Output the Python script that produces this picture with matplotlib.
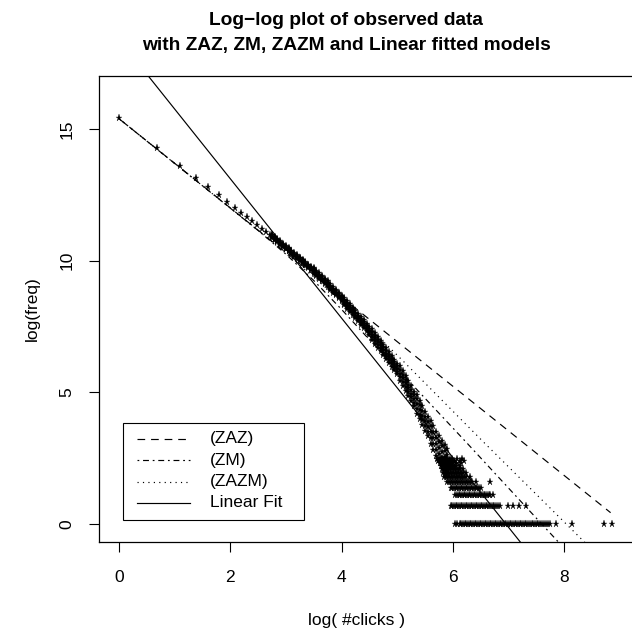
import numpy as np
import matplotlib
matplotlib.use("Agg")
import matplotlib.pyplot as plt
from matplotlib.patches import Rectangle

plt.rcParams['font.family'] = ['Liberation Sans', 'DejaVu Sans']

# ---------------- observed data (log scale values read from the picture) -------------
# first click counts (1..15): log(#clicks) and log(freq)
obs_x = [0.000, 0.693, 1.099, 1.386, 1.609, 1.792, 1.946, 2.079, 2.197, 2.303, 2.398, 2.485,
         2.565, 2.639, 2.708]
obs_y = [15.40, 14.27, 13.61, 13.14, 12.78, 12.48, 12.23, 12.01, 11.82, 11.65, 11.49, 11.35,
         11.22, 11.10, 10.99]

# denser part of the curve: centre of the point cloud and its half thickness
band_x = [2.75, 2.80, 2.85, 2.90, 2.95, 3.00, 3.05, 3.10, 3.15, 3.20, 3.25, 3.30, 3.35, 3.40,
          3.45, 3.50, 3.55, 3.60, 3.65, 3.70, 3.75, 3.80, 3.85, 3.90, 3.95, 4.00, 4.05, 4.10,
          4.15, 4.20, 4.25, 4.30, 4.35, 4.40, 4.45, 4.50, 4.55, 4.60, 4.65, 4.70, 4.75, 4.80,
          4.85, 4.90, 4.95, 5.00, 5.05, 5.10, 5.15, 5.20, 5.25, 5.30, 5.35, 5.40, 5.45, 5.50,
          5.55, 5.60, 5.65, 5.70, 5.75, 5.80, 5.85, 5.90]
band_mid = [10.93, 10.84, 10.76, 10.67, 10.58, 10.49, 10.41, 10.32, 10.23, 10.14, 10.06, 9.97,
            9.88, 9.79, 9.71, 9.62, 9.52, 9.42, 9.32, 9.22, 9.11, 9.00, 8.89, 8.78, 8.67, 8.56,
            8.44, 8.32, 8.20, 8.08, 7.96, 7.84, 7.71, 7.59, 7.46, 7.33, 7.19, 7.05, 6.90, 6.76,
            6.61, 6.47, 6.33, 6.18, 6.04, 5.89, 5.71, 5.53, 5.34, 5.15, 4.95, 4.75, 4.55, 4.33,
            4.12, 3.90, 3.69, 3.48, 3.26, 3.05, 2.88, 2.72, 2.55, 2.40]
band_half = [0.06] * 15 + [0.10] * 11 + [0.14] * 10 + [0.20] * 10 + [0.28] * 6 + [0.36] * 5 + [0.45] * 7

# tail: log(#clicks) of the click counts seen with a small frequency
f1_x = [6.04, 6.08, 6.12, 6.15, 6.18, 6.21, 6.24, 6.27, 6.30, 6.33, 6.36, 6.39, 6.42, 6.45,
        6.48, 6.51, 6.54, 6.57, 6.60, 6.63, 6.66, 6.69, 6.72, 6.75, 6.78, 6.81, 6.84, 6.87,
        6.90, 6.93, 6.96, 6.99, 7.02, 7.05, 7.08, 7.11, 7.14, 7.17, 7.20, 7.23, 7.26, 7.29,
        7.32, 7.35, 7.38, 7.41, 7.44, 7.47, 7.50, 7.53, 7.56, 7.59, 7.63, 7.67, 7.71, 7.75,
        7.85, 8.14, 8.71, 8.86]
f2_x = [5.96, 5.99, 6.02, 6.05, 6.08, 6.11, 6.14, 6.17, 6.20, 6.23, 6.26, 6.29, 6.32, 6.35,
        6.38, 6.41, 6.44, 6.47, 6.50, 6.53, 6.56, 6.59, 6.62, 6.65, 6.68, 6.71, 6.74, 6.77,
        6.80, 6.84, 6.99, 7.08, 7.19, 7.32]
f3_x = [6.04, 6.07, 6.10, 6.13, 6.16, 6.19, 6.22, 6.25, 6.28, 6.31, 6.34, 6.37, 6.40, 6.43,
        6.46, 6.49, 6.52, 6.55, 6.58, 6.61, 6.64, 6.67, 6.71]
f4_x = [5.96, 5.99, 6.02, 6.05, 6.08, 6.11, 6.14, 6.17, 6.20, 6.23, 6.26, 6.29, 6.32, 6.35,
        6.38, 6.41, 6.44, 6.47, 6.51]
f5_x = [5.90, 5.93, 5.96, 5.99, 6.02, 6.05, 6.08, 6.11, 6.14, 6.17, 6.20, 6.23, 6.26, 6.29,
        6.32, 6.35, 6.41, 6.66]
f6_x = [5.84, 5.87, 5.90, 5.93, 5.96, 5.99, 6.02, 6.05, 6.08, 6.11, 6.14, 6.17, 6.20, 6.24, 6.30]
f7_x = [5.82, 5.85, 5.88, 5.91, 5.94, 5.97, 6.00, 6.03, 6.06, 6.09, 6.12, 6.15, 6.18, 6.24]
f8_x = [5.80, 5.83, 5.86, 5.89, 5.92, 5.95, 5.98, 6.01, 6.04, 6.07, 6.10, 6.13, 6.18]
f9_x = [5.78, 5.81, 5.84, 5.87, 5.90, 5.93, 5.96, 5.99, 6.02, 6.06, 6.12]
f10_x = [5.76, 5.79, 5.82, 5.85, 5.88, 5.91, 5.94, 5.97, 6.00, 6.05, 6.14]
f11_x = [5.74, 5.77, 5.80, 5.83, 5.86, 5.89, 5.92, 5.95, 5.98, 6.02, 6.12, 6.20]
f12_x = [5.72, 5.75, 5.78, 5.81, 5.84, 5.87, 5.90, 5.94, 5.98, 6.08, 6.16]
tail_freqs = [1, 2, 3, 4, 5, 6, 7, 8, 9, 10, 11, 12]
tail_xs = [f1_x, f2_x, f3_x, f4_x, f5_x, f6_x, f7_x, f8_x, f9_x, f10_x, f11_x, f12_x]

# ---------------- fitted models ----------------
zaz_x = [0.0, 8.83]
zaz_y = [15.40, 0.43]
zm_x = [0.0, 2.0, 2.5, 3.0, 3.5, 4.0, 4.5, 5.08, 6.24, 7.86, 8.86]
zm_y = [15.40, 12.00, 11.15, 10.25, 9.25, 8.15, 7.00, 5.72, 3.10, -0.61, -2.90]
zazm_x = [0.0, 2.5, 3.0, 3.5, 4.0, 4.5, 5.1, 6.54, 8.31, 8.86]
zazm_y = [15.40, 11.15, 10.28, 9.38, 8.45, 7.45, 6.20, 3.13, -0.58, -1.73]
lin_x = [0.0, 8.86]
lin_y = [18.42, -5.06]

legend_labels = ["(ZAZ)", "(ZM)", "(ZAZM)", "Linear Fit"]
x_ticks = [0, 2, 4, 6, 8]
y_ticks = [0, 5, 10, 15]

# ---------------- figure ----------------
W, H = 632, 633
fig = plt.figure(figsize=(W / 100, H / 100), dpi=100)
AX_L, AX_R, AX_T, AX_B = 99, 633, 75.7, 541.7
ax = fig.add_axes([AX_L / W, 1 - AX_B / H, (AX_R - AX_L) / W, (AX_B - AX_T) / H])


def afrac(px, py):
    return (px - AX_L) / (AX_R - AX_L), (AX_B - py) / (AX_B - AX_T)


mk = dict(linestyle='none', marker='*', markersize=5.2, color='black',
          markeredgewidth=0.2, markeredgecolor='black')
ax.plot(obs_x, obs_y, **mk)
bm = np.array(band_mid)
bh = np.array(band_half)
ax.plot(band_x, bm, **mk)
ax.plot(band_x, bm - bh, **mk)
ax.plot(band_x, bm + bh, **mk)
ax.plot(band_x, bm - bh / 2, **mk)
ax.plot(band_x, bm + bh / 2, **mk)
for f, xs in zip(tail_freqs, tail_xs):
    ax.plot(xs, np.full(len(xs), np.log(f)), **mk)

lw = 0.85
styles = [dict(dashes=(6.5, 5.0)), dict(dashes=(1.5, 3.2, 5.0, 3.2)),
          dict(dashes=(1.0, 3.6)), dict(linestyle='-')]
for (xs, ys), st in zip([(zaz_x, zaz_y), (zm_x, zm_y), (zazm_x, zazm_y), (lin_x, lin_y)], styles):
    ax.plot(xs, ys, color='black', lw=lw, **st)

ax.set_xlim(-0.354, 9.232)
ax.set_ylim(-0.672, 17.025)

ax.set_xticks(x_ticks)
ax.set_xticklabels([str(t) for t in x_ticks])
ax.set_yticks(y_ticks)
ax.set_yticklabels([str(t) for t in y_ticks], rotation=90, va='center')
ax.tick_params(axis='both', direction='out', length=7.2, width=0.8, color='black',
               labelsize=12.5, labelcolor='black')
ax.tick_params(axis='x', pad=13.0)
ax.tick_params(axis='y', pad=10.5)
for s in ax.spines.values():
    s.set_linewidth(0.9)
    s.set_color('black')

# legend (R style box)
bx0, by0 = afrac(123, 520)
bx1, by1 = afrac(304, 423)
ax.add_patch(Rectangle((bx0, by0), bx1 - bx0, by1 - by0, transform=ax.transAxes,
                       facecolor='white', edgecolor='black', lw=0.8, zorder=5))
rows = [439.0, 460.3, 481.6, 502.9]
for lab, st, ry in zip(legend_labels, styles, rows):
    hx0, hy = afrac(137, ry)
    hx1, _ = afrac(190, ry)
    ax.plot([hx0, hx1], [hy, hy], transform=ax.transAxes, color='black', lw=lw, zorder=6, **st)
    tx, _ = afrac(210, ry)
    ax.text(tx, hy, lab, transform=ax.transAxes, ha='left', va='center', fontsize=12.5, zorder=6)

fig.text(346 / W, 1 - 25 / H, "Log\u2212log plot of observed data", ha='center', va='baseline',
         fontsize=13.8, fontweight='bold')
fig.text(346 / W, 1 - 50 / H, "with ZAZ, ZM, ZAZM and Linear fitted models", ha='center',
         va='baseline', fontsize=13.8, fontweight='bold')
fig.text(357 / W, 1 - 620 / H, "log( #clicks )", ha='center', va='center', fontsize=12.5)
fig.text(32.5 / W, 1 - (AX_T + AX_B) / 2 / H, "log(freq)", ha='center', va='center',
         rotation=90, fontsize=12.5)

fig.savefig("out.png", dpi=100)
